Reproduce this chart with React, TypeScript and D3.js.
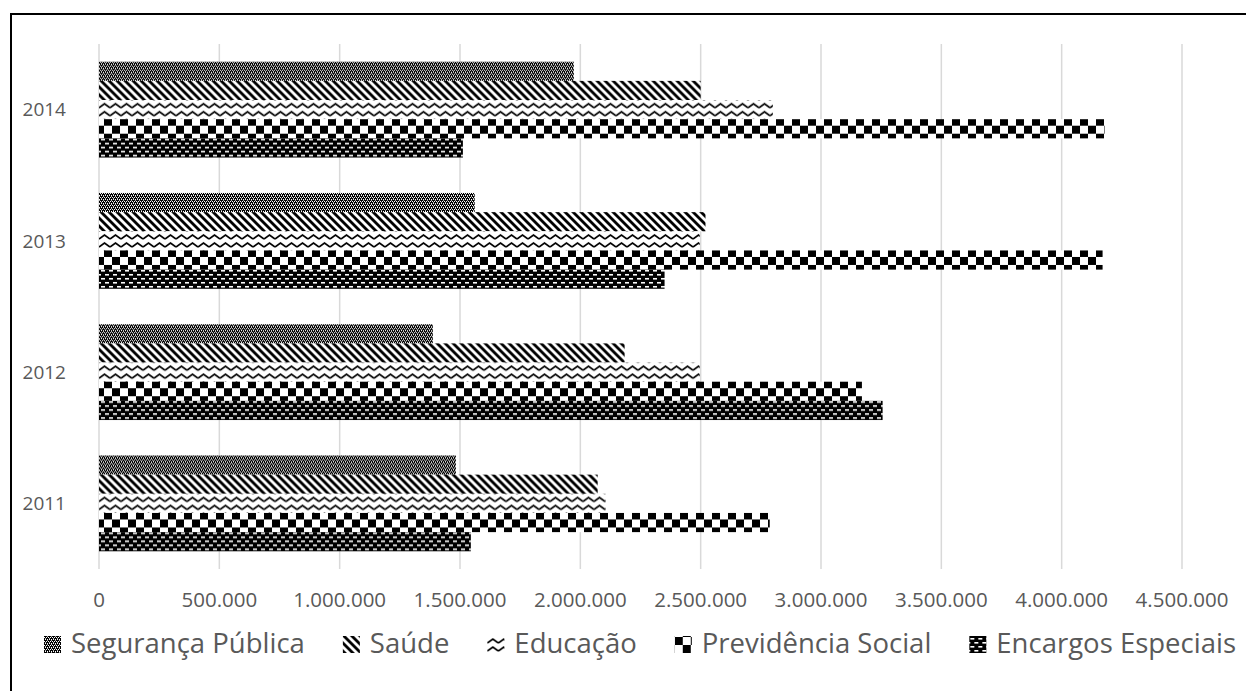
import React, {useEffect, useRef} from "react"
import * as d3 from "d3"

const years = ["2014", "2013", "2012", "2011"]
const seriesNames = ["Segurança Pública", "Saúde", "Educação", "Previdência Social", "Encargos Especiais"]
const seguranca = [1973000, 1561000, 1387000, 1483000]
const saude = [2500000, 2520000, 2184000, 2072000]
const educacao = [2800000, 2496000, 2496000, 2105000]
const previdencia = [4178000, 4170000, 3170000, 2787000]
const encargos = [1512000, 2350000, 3256000, 1545000]
const xTicks = [0, 500000, 1000000, 1500000, 2000000, 2500000, 3000000, 3500000, 4000000, 4500000]

const seriesValues = [seguranca, saude, educacao, previdencia, encargos]
const patternIds = ["pSeg", "pSau", "pEdu", "pPrev", "pEnc"]

const W = 1246
const H = 691
const FONT = "'Open Sans', sans-serif"
const TXT = "#595959"

const App = () => {
    const ref = useRef(null)

    useEffect(() => {
        const svg = d3.select(ref.current)
        svg.selectAll("*").remove()

        // patterns (excel-like hatch fills)
        const defs = svg.append("defs")
        const seg = defs.append("pattern").attr("id", "pSeg").attr("patternUnits", "userSpaceOnUse")
            .attr("width", 4).attr("height", 4)
        seg.append("rect").attr("width", 4).attr("height", 4).attr("fill", "#000")
        const segDots: Array<[number, number]> = [[0, 0], [2, 0], [1, 2], [3, 2]]
        segDots.forEach(([px, py]) => seg.append("rect").attr("x", px).attr("y", py)
            .attr("width", 1).attr("height", 1).attr("fill", "#fff"))
        seg.append("rect").attr("x", 1).attr("y", 1).attr("width", 1).attr("height", 1).attr("fill", "#aaa")
        seg.append("rect").attr("x", 3).attr("y", 3).attr("width", 1).attr("height", 1).attr("fill", "#aaa")

        const sau = defs.append("pattern").attr("id", "pSau").attr("patternUnits", "userSpaceOnUse")
            .attr("width", 8).attr("height", 8)
        sau.append("rect").attr("width", 8).attr("height", 8).attr("fill", "#fff")
        sau.append("polygon").attr("points", "0,0 4,0 8,4 8,8").attr("fill", "#000")
        sau.append("polygon").attr("points", "0,4 0,8 4,8").attr("fill", "#000")

        const edu = defs.append("pattern").attr("id", "pEdu").attr("patternUnits", "userSpaceOnUse")
            .attr("width", 11).attr("height", 8)
        edu.append("rect").attr("width", 11).attr("height", 8).attr("fill", "#fff")
        edu.append("path").attr("d", "M0,6 L5.5,2 L11,6").attr("fill", "none")
            .attr("stroke", "#000").attr("stroke-width", 1.7)

        const prev = defs.append("pattern").attr("id", "pPrev").attr("patternUnits", "userSpaceOnUse")
            .attr("width", 16).attr("height", 16)
        prev.append("rect").attr("width", 16).attr("height", 16).attr("fill", "#fff")
        prev.append("rect").attr("width", 8).attr("height", 8).attr("fill", "#000")
        prev.append("rect").attr("x", 8).attr("y", 8).attr("width", 8).attr("height", 8).attr("fill", "#000")

        const enc = defs.append("pattern").attr("id", "pEnc").attr("patternUnits", "userSpaceOnUse")
            .attr("width", 8).attr("height", 8)
        enc.append("rect").attr("width", 8).attr("height", 8).attr("fill", "#000")
        enc.append("rect").attr("x", 1).attr("y", 1).attr("width", 4).attr("height", 1.6).attr("fill", "#fff")
        enc.append("rect").attr("x", 5).attr("y", 5).attr("width", 4).attr("height", 1.6).attr("fill", "#fff")
        enc.append("rect").attr("x", -3).attr("y", 5).attr("width", 4).attr("height", 1.6).attr("fill", "#fff")

        // frame
        svg.append("rect").attr("x", 11).attr("y", 14).attr("width", W + 20).attr("height", H + 20)
            .attr("fill", "#fff").attr("stroke", "#000").attr("stroke-width", 2)

        const x = d3.scaleLinear().domain([0, 4500000]).range([99, 1182])
        const y = d3.scaleBand().domain(years).range([44, 569]).paddingInner(0.27).paddingOuter(0.135)
        const yInner = d3.scaleBand().domain(seriesNames).range([0, y.bandwidth()])

        // gridlines
        svg.append("g").selectAll("line").data(xTicks).join("line")
            .attr("x1", d => x(d)).attr("x2", d => x(d))
            .attr("y1", 44).attr("y2", 569)
            .attr("stroke", "#d9d9d9").attr("stroke-width", 1.5)

        // bars
        const groups = svg.append("g").selectAll("g").data(years).join("g")
            .attr("transform", d => `translate(0,${y(d)})`)
        groups.each(function (yr, yi) {
            d3.select(this).selectAll("rect").data(seriesNames).join("rect")
                .attr("x", x(0))
                .attr("y", d => yInner(d))
                .attr("height", yInner.bandwidth())
                .attr("width", (d, si) => x(seriesValues[si][yi]) - x(0))
                .attr("fill", (d, si) => `url(#${patternIds[si]})`)
        })

        // x tick labels
        svg.append("g").selectAll("text").data(xTicks).join("text")
            .attr("x", d => x(d)).attr("y", 607)
            .attr("text-anchor", "middle")
            .attr("font-family", FONT).attr("font-size", 20.5).attr("fill", TXT)
            .text(d => d === 0 ? "0" : d3.format(",")(d).replace(/,/g, "."))

        // y labels
        svg.append("g").selectAll("text").data(years).join("text")
            .attr("x", 66).attr("y", d => (y(d) as number) + y.bandwidth() / 2)
            .attr("dy", "0.35em")
            .attr("text-anchor", "end")
            .attr("font-family", FONT).attr("font-size", 19).attr("fill", TXT)
            .text(d => d)

        // legend
        const leg = svg.append("g")
        const mk = 17
        const gapTxt = 10
        const gapItem = 38
        const items = seriesNames.map((name, i) => {
            const g = leg.append("g")
            g.append("rect").attr("width", mk).attr("height", mk).attr("y", -mk)
                .attr("fill", `url(#${patternIds[i]})`)
            const t = g.append("text").attr("x", mk + gapTxt).attr("y", 0)
                .attr("font-family", FONT).attr("font-size", 27.5).attr("fill", TXT)
                .text(name)
            const w = (t.node() as SVGTextElement).getComputedTextLength()
            return {g, w: mk + gapTxt + w}
        })
        const total = d3.sum(items, d => d.w) + gapItem * (items.length - 1)
        let cx = 640 - total / 2
        items.forEach(it => {
            it.g.attr("transform", `translate(${cx},653)`)
            cx += it.w + gapItem
        })
    }, [])

    return (
        <svg
            ref={ref}
            width={W}
            height={H}
            viewBox={`0 0 ${W} ${H}`}
            style={{position: "absolute", left: 0, top: 0, background: "#fff"}}
        />
    )
}

export default App
